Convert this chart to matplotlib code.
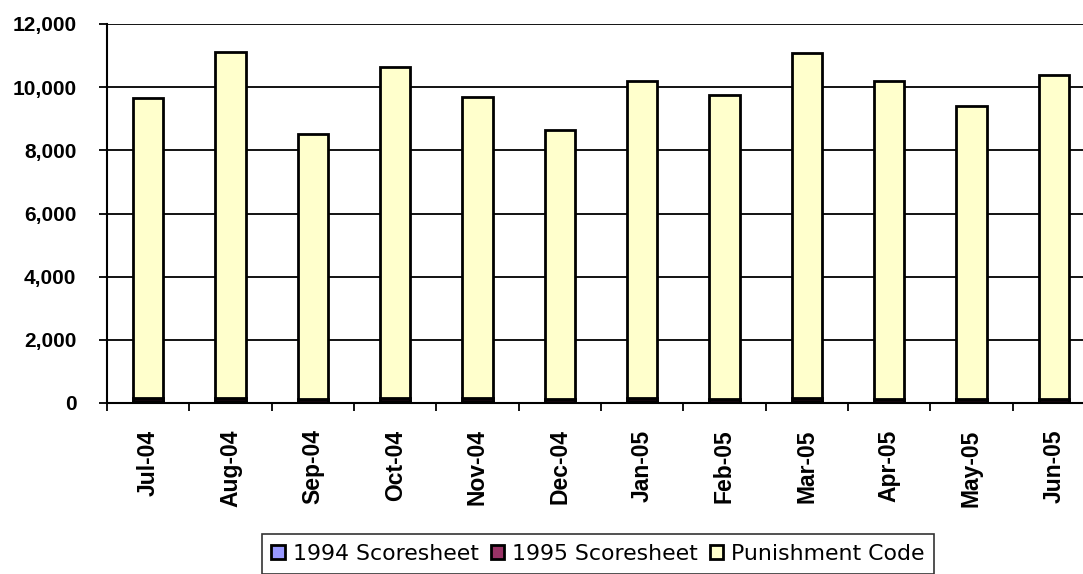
import matplotlib
matplotlib.use("Agg")
import matplotlib.pyplot as plt
import numpy as np

months = ["Jul-04", "Aug-04", "Sep-04", "Oct-04", "Nov-04", "Dec-04",
          "Jan-05", "Feb-05", "Mar-05", "Apr-05", "May-05", "Jun-05"]
scoresheet_1994 = [50, 50, 40, 50, 50, 40, 50, 40, 50, 40, 40, 40]
scoresheet_1995 = [110, 110, 80, 110, 110, 80, 110, 80, 110, 80, 80, 80]
punishment_code = [9490, 10960, 8390, 10480, 9530, 8520, 10040, 9640, 10910, 10080, 9290, 10280]

series_names = ["1994 Scoresheet", "1995 Scoresheet", "Punishment Code"]
colors = ["#9999FF", "#993366", "#FFFFCC"]
yticks = [0, 2000, 4000, 6000, 8000, 10000, 12000]

plt.rcParams['font.family'] = ['Liberation Sans', 'DejaVu Sans']

W, H = 1083, 574
fig = plt.figure(figsize=(W / 100, H / 100), dpi=100)
ax = fig.add_axes([107 / W, 1 - 403 / H, 988 / W, 379 / H])

x = np.arange(len(months)) + 0.5
bottom = np.zeros(len(months))
handles = []
for vals, c, name in zip([scoresheet_1994, scoresheet_1995, punishment_code], colors, series_names):
    b = ax.bar(x, vals, width=0.37, bottom=bottom, color=c, edgecolor="black",
               linewidth=2.0, label=name, zorder=3)
    bottom += np.array(vals)
    handles.append(b)

ax.set_xlim(0, 12)
ax.set_ylim(0, 12000)
ax.set_yticks(yticks)
ax.set_yticklabels([f"{v:,}" for v in yticks], fontsize=15, fontweight="bold")
ax.yaxis.grid(True, color="black", linewidth=1.3, zorder=0)

ax.set_xticks(np.arange(0, 12))
ax.set_xticklabels([])
ax.set_xticks(x, minor=True)
ax.set_xticklabels(months, minor=True, rotation=90, fontsize=16.5, fontweight="bold")
ax.tick_params(axis="x", which="minor", length=0, pad=19)
ax.tick_params(axis="x", which="major", length=6, width=1.3, direction="out")
ax.tick_params(axis="y", length=6, width=1.3, direction="out", pad=16)

for s in ["top", "right"]:
    ax.spines[s].set_visible(False)
for s in ["left", "bottom"]:
    ax.spines[s].set_linewidth(1.5)
    ax.spines[s].set_color("black")

leg = fig.legend(handles=handles, labels=series_names, loc="upper center",
                 bbox_to_anchor=(598 / W, 1 - 534 / H), ncol=3, frameon=True,
                 fancybox=False, edgecolor="black",
                 prop={"family": "DejaVu Sans", "size": 15.8},
                 handlelength=0.6, handleheight=0.6, handletextpad=0.37,
                 columnspacing=0.55, borderpad=0.45, borderaxespad=0)
leg.get_frame().set_linewidth(1.2)

fig.savefig("out.png", dpi=100)
